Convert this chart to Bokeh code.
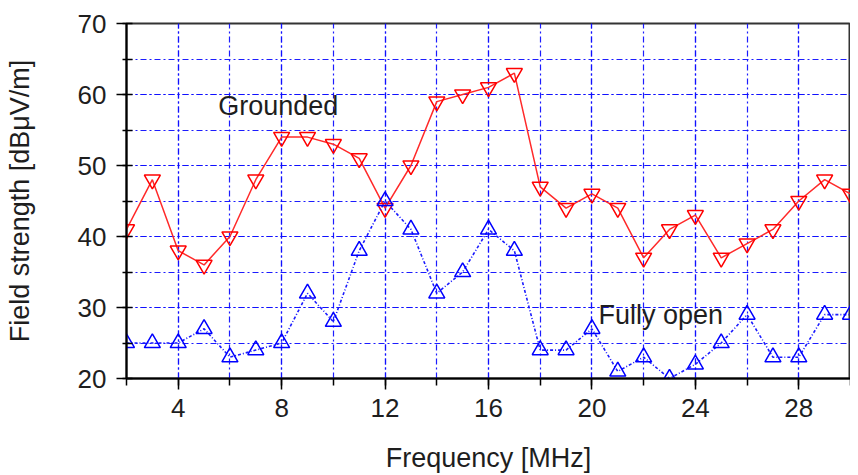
from bokeh.plotting import figure
from bokeh.models import Range1d, SingleIntervalTicker, Label
from bokeh.embed import file_html
from bokeh.resources import INLINE

freq = list(range(2, 31))
grounded = [41, 48, 38, 36, 40, 48, 54, 54, 53, 51, 44, 50, 59, 60, 61, 63,
            47, 44, 46, 44, 37, 41, 43, 37, 39, 41, 45, 48, 46]
fully_open = [25, 25, 25, 27, 23, 24, 25, 32, 28, 38, 45, 41, 32, 35, 41, 38,
              24, 24, 27, 21, 23, 20, 22, 25, 29, 23, 23, 29, 29]
label_grounded = "Grounded"
label_open = "Fully open"
x_label = "Frequency [MHz]"
y_label = "Field strength [dB\u03bcV/m]"

FONT = "Liberation Sans"
TXT = "#1e1e1e"

p = figure(frame_width=724, frame_height=355, min_border_left=126, min_border_top=23,
           min_border_right=0, min_border_bottom=89, output_backend="svg",
           toolbar_location=None, x_range=Range1d(2, 30), y_range=Range1d(20, 70))
p.background_fill_color = "white"
p.border_fill_color = "white"
p.outline_line_color = "#333333"
p.outline_line_width = 2

p.xaxis.ticker = SingleIntervalTicker(interval=4, num_minor_ticks=2)
p.yaxis.ticker = SingleIntervalTicker(interval=10, num_minor_ticks=2)

for g in (p.xgrid, p.ygrid):
    g.grid_line_color = "#1010ff"
    g.grid_line_alpha = 0.95
    g.grid_line_width = 1.2
    g.grid_line_dash = "6 3 2 3"
    g.minor_grid_line_color = "#1010ff"
    g.minor_grid_line_alpha = 0.95
    g.minor_grid_line_width = 1.2
    g.minor_grid_line_dash = "6 3 2 3"

for ax in (p.xaxis, p.yaxis):
    ax.axis_line_color = "black"
    ax.axis_line_width = 2
    ax.major_tick_line_color = "black"
    ax.minor_tick_line_color = "black"
    ax.major_tick_line_width = 1.5
    ax.minor_tick_line_width = 1.5
    ax.major_label_text_font = FONT
    ax.major_label_text_font_size = "26px"
    ax.major_label_text_color = TXT
    ax.axis_label_text_font = FONT
    ax.axis_label_text_font_size = "27px"
    ax.axis_label_text_font_style = "normal"
    ax.axis_label_text_color = TXT

p.xaxis.axis_label = x_label
p.yaxis.axis_label = y_label
p.xaxis.major_tick_out = 11
p.xaxis.major_tick_in = 0
p.xaxis.minor_tick_out = 7
p.xaxis.minor_tick_in = 0
p.yaxis.major_tick_out = 10
p.yaxis.major_tick_in = 0
p.yaxis.minor_tick_out = 4
p.yaxis.minor_tick_in = 6
p.xaxis.major_label_standoff = 9
p.yaxis.major_label_standoff = 10
p.xaxis.axis_label_standoff = 23
p.yaxis.axis_label_standoff = 40

p.line(freq, grounded, line_color="#ff2a2a", line_width=1.5)
p.scatter(freq, grounded, marker="inverted_triangle", size=16, line_color="#ff0000",
          line_width=1.5, fill_color=None)
p.line(freq, fully_open, line_color="#1a1aff", line_width=1.6, line_dash="3 2 1 2")
p.scatter(freq, fully_open, marker="triangle", size=16, line_color="#0000ff",
          line_width=1.5, fill_color=None)

p.add_layout(Label(x=5.55, y=58.4, text=label_grounded, text_font=FONT,
                   text_font_size="27px", text_color=TXT, text_align="left",
                   text_baseline="alphabetic"))
p.add_layout(Label(x=20.25, y=29.0, text=label_open, text_font=FONT,
                   text_font_size="27px", text_color=TXT, text_align="left",
                   text_baseline="alphabetic"))

open("out.html", "w").write(file_html(p, INLINE))
